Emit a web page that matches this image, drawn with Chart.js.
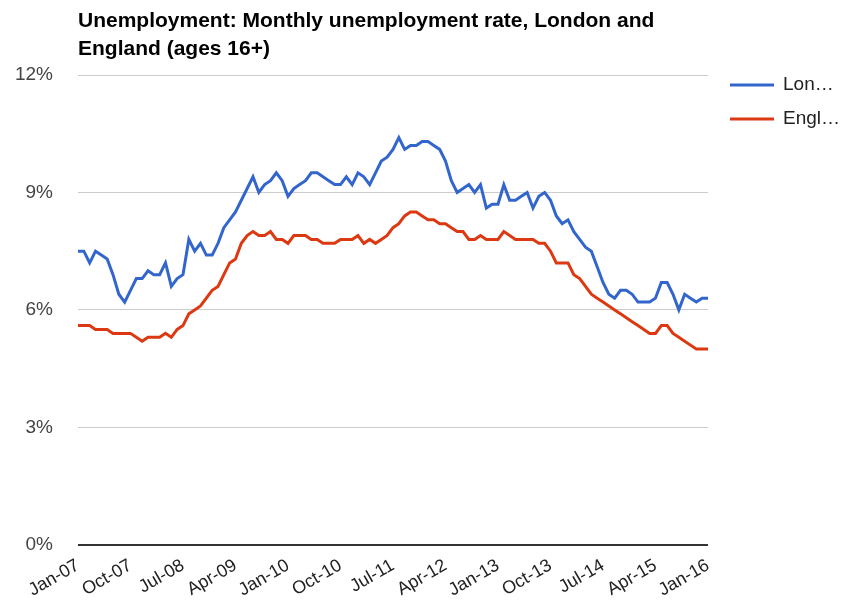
<!DOCTYPE html>
<html>
<head>
<meta charset="utf-8">
<script src="https://cdn.jsdelivr.net/npm/chart.js@4"></script>
<style>
  html, body { margin: 0; padding: 0; background: #fff; }
  #wrap { width: 848px; height: 613px; }
</style>
</head>
<body>
<div id="wrap"><canvas id="unemploymentChart"></canvas></div>
<script>
// Chart data

const titleLines = ['Unemployment: Monthly unemployment rate, London and', 'England (ages 16+)'];
const monthNames = ['Jan', 'Feb', 'Mar', 'Apr', 'May', 'Jun', 'Jul', 'Aug', 'Sep', 'Oct', 'Nov', 'Dec'];
const seriesNames = ['London', 'England'];
const seriesColors = ['#3366cc', '#dc3912'];
const tickLabels = ['Jan-07', 'Oct-07', 'Jul-08', 'Apr-09', 'Jan-10', 'Oct-10', 'Jul-11',
  'Apr-12', 'Jan-13', 'Oct-13', 'Jul-14', 'Apr-15', 'Jan-16'];
const yTicks = [0, 3, 6, 9, 12];

// Jan-07 .. Jan-16, monthly
const london = [
  7.5, 7.5, 7.2, 7.5, 7.4, 7.3, 6.9, 6.4, 6.2, 6.5, 6.8, 6.8,
  7.0, 6.9, 6.9, 7.2, 6.6, 6.8, 6.9, 7.8, 7.5, 7.7, 7.4, 7.4,
  7.7, 8.1, 8.3, 8.5, 8.8, 9.1, 9.4, 9.0, 9.2, 9.3, 9.5, 9.3,
  8.9, 9.1, 9.2, 9.3, 9.5, 9.5, 9.4, 9.3, 9.2, 9.2, 9.4, 9.2,
  9.5, 9.4, 9.2, 9.5, 9.8, 9.9, 10.1, 10.4, 10.1, 10.2, 10.2, 10.3,
  10.3, 10.2, 10.1, 9.8, 9.3, 9.0, 9.1, 9.2, 9.0, 9.2, 8.6, 8.7,
  8.7, 9.2, 8.8, 8.8, 8.9, 9.0, 8.6, 8.9, 9.0, 8.8, 8.4, 8.2,
  8.3, 8.0, 7.8, 7.6, 7.5, 7.1, 6.7, 6.4, 6.3, 6.5, 6.5, 6.4,
  6.2, 6.2, 6.2, 6.3, 6.7, 6.7, 6.4, 6.0, 6.4, 6.3, 6.2, 6.3,
  6.3
];
const england = [
  5.6, 5.6, 5.6, 5.5, 5.5, 5.5, 5.4, 5.4, 5.4, 5.4, 5.3, 5.2,
  5.3, 5.3, 5.3, 5.4, 5.3, 5.5, 5.6, 5.9, 6.0, 6.1, 6.3, 6.5,
  6.6, 6.9, 7.2, 7.3, 7.7, 7.9, 8.0, 7.9, 7.9, 8.0, 7.8, 7.8,
  7.7, 7.9, 7.9, 7.9, 7.8, 7.8, 7.7, 7.7, 7.7, 7.8, 7.8, 7.8,
  7.9, 7.7, 7.8, 7.7, 7.8, 7.9, 8.1, 8.2, 8.4, 8.5, 8.5, 8.4,
  8.3, 8.3, 8.2, 8.2, 8.1, 8.0, 8.0, 7.8, 7.8, 7.9, 7.8, 7.8,
  7.8, 8.0, 7.9, 7.8, 7.8, 7.8, 7.8, 7.7, 7.7, 7.5, 7.2, 7.2,
  7.2, 6.9, 6.8, 6.6, 6.4, 6.3, 6.2, 6.1, 6.0, 5.9, 5.8, 5.7,
  5.6, 5.5, 5.4, 5.4, 5.6, 5.6, 5.4, 5.3, 5.2, 5.1, 5.0, 5.0,
  5.0
];

// Month labels like "Jan-07"
const months = [];
for (let i = 0; i < london.length; i++) {
  const m = monthNames[i % 12];
  const yy = String(7 + Math.floor(i / 12)).padStart(2, '0');
  months.push(m + '-' + yy);
}

const FONT = '"Liberation Sans", Arial, sans-serif';

// Title drawn left-aligned with the plot area
const leftTitle = {
  id: 'leftTitle',
  afterDraw(chart) {
    const ctx = chart.ctx;
    ctx.save();
    ctx.font = 'bold 21px ' + FONT;
    ctx.fillStyle = '#000';
    ctx.textBaseline = 'alphabetic';
    titleLines.forEach((line, i) => {
      ctx.fillText(line, chart.chartArea.left, 27 + i * 28);
    });
    ctx.restore();
  }
};

// Legend on the right, text clipped with an ellipsis like the original
const sideLegend = {
  id: 'sideLegend',
  afterDraw(chart) {
    const ctx = chart.ctx;
    const x0 = chart.chartArea.right + 22;
    ctx.save();
    ctx.font = '19px ' + FONT;
    ctx.textBaseline = 'middle';
    chart.data.datasets.forEach((ds, i) => {
      const y = chart.chartArea.top + 10 + i * 34;
      ctx.strokeStyle = ds.borderColor;
      ctx.lineWidth = 3;
      ctx.beginPath();
      ctx.moveTo(x0, y);
      ctx.lineTo(x0 + 44, y);
      ctx.stroke();
      let text = ds.label;
      const maxW = 59;
      if (ctx.measureText(text).width > maxW) {
        while (text.length > 1 && ctx.measureText(text + '\u2026').width > maxW) {
          text = text.slice(0, -1);
        }
        text += '\u2026';
      }
      ctx.fillStyle = '#222';
      ctx.fillText(text, x0 + 53, y);
    });
    ctx.restore();
  }
};

new Chart(document.getElementById('unemploymentChart').getContext('2d'), {
  type: 'line',
  data: {
    labels: months,
    datasets: [
      { label: seriesNames[0], data: london, borderColor: seriesColors[0] },
      { label: seriesNames[1], data: england, borderColor: seriesColors[1] }
    ]
  },
  options: {
    responsive: true,
    maintainAspectRatio: false,
    animation: false,
    layout: { padding: { top: 75, right: 140, bottom: 10, left: 14 } },
    elements: {
      line: { borderWidth: 3, tension: 0, fill: false },
      point: { radius: 0, hoverRadius: 0 }
    },
    plugins: {
      legend: { display: false },
      title: { display: false },
      tooltip: { enabled: false }
    },
    scales: {
      x: {
        offset: false,
        grid: { display: false },
        border: { display: false },
        afterFit: scale => { scale.paddingLeft = 0; scale.paddingRight = 0; },
        ticks: {
          autoSkip: false,
          minRotation: 30,
          maxRotation: 30,
          padding: 2,
          color: '#222',
          font: { family: FONT, size: 18 },
          callback: function(value) {
            const lbl = this.getLabelForValue(value);
            return tickLabels.includes(lbl) ? lbl : null;
          }
        }
      },
      y: {
        min: 0,
        max: 12,
        border: { display: false },
        afterFit: scale => { scale.width = 64; },
        grid: {
          drawTicks: false,
          color: ctx => ctx.tick.value === 0 ? '#333' : '#ccc',
          lineWidth: ctx => ctx.tick.value === 0 ? 2 : 1
        },
        afterBuildTicks: axis => { axis.ticks = yTicks.map(v => ({ value: v })); },
        ticks: {
          padding: 25,
          color: '#444',
          font: { family: FONT, size: 19 },
          callback: value => value + '%'
        }
      }
    }
  },
  plugins: [leftTitle, sideLegend]
});
</script>
</body>
</html>
